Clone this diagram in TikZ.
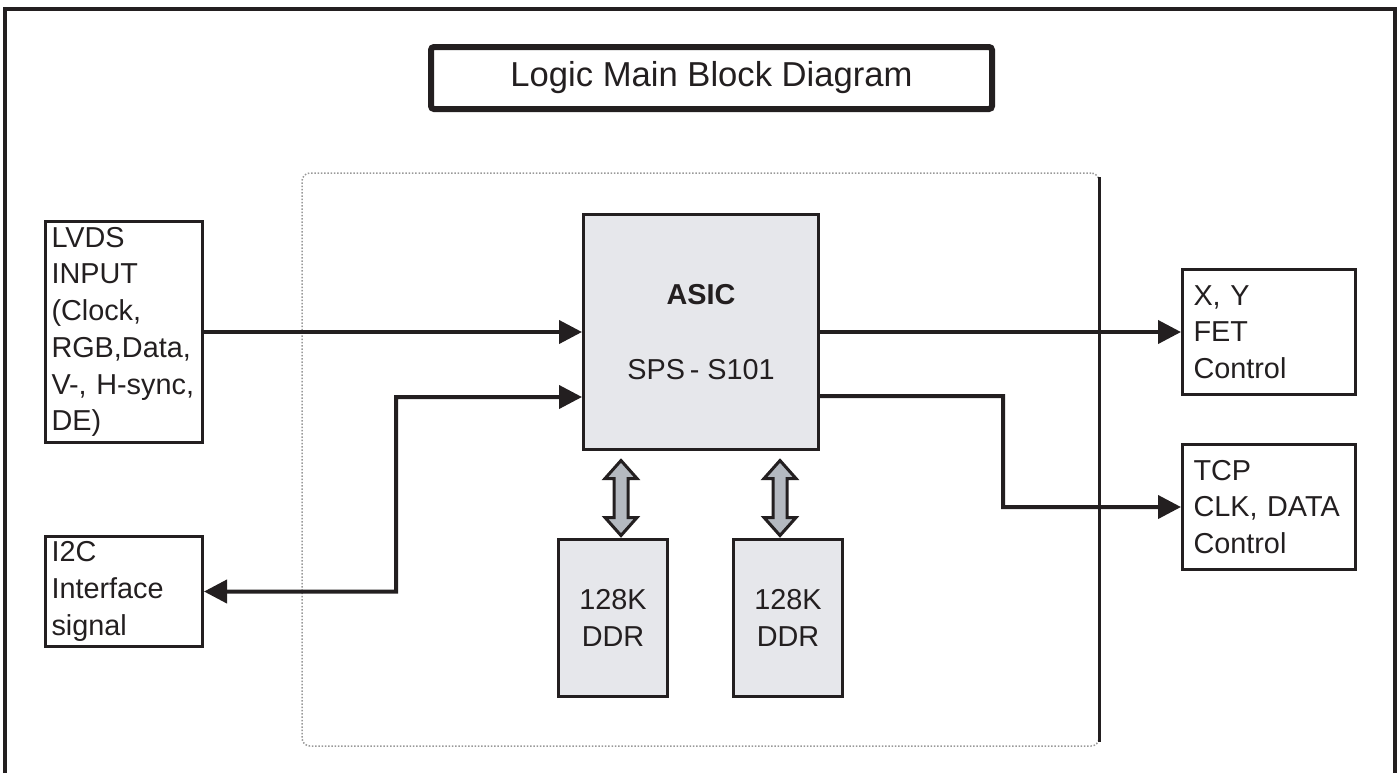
\documentclass[tikz,border=0pt]{standalone}
\usepackage{fontspec}
\setmainfont{Liberation Sans}
\usepackage{xcolor}
\usetikzlibrary{arrows.meta,calc}

\definecolor{chipfill}{HTML}{E6E7EB}
\definecolor{busfill}{HTML}{B4B9C0}
\definecolor{ink}{HTML}{231F20}

\begin{document}
\begin{tikzpicture}[
      font=\fontsize{16.4}{20.9}\selectfont, color=ink,
      box/.style={draw, line width=0.6mm, inner ysep=1mm},
      signal/.style={box, align=left, inner xsep=1.2mm, text width=29mm},
      output/.style={box, align=left, inner xsep=2.2mm, text width=30.2mm,
                     minimum height=25mm},
      chip/.style={box, fill=chipfill, align=center},
      bus/.style={draw, line width=0.6mm, fill=busfill},
      region/.style={draw=gray!80, densely dotted, line width=0.3mm,
                     rounded corners=1.6mm},
      wire/.style={line width=0.8mm},
      >={Triangle[length=4.6mm,width=4.6mm]}]

    \useasboundingbox (0mm,0mm) rectangle (280mm,-154.6mm);
    \draw[line width=0.8mm] (1mm,-154.6mm) -- (1mm,-1.8mm)
      -- (279mm,-1.8mm) -- (279mm,-154.6mm);

    \node[box, line width=1.2mm, rounded corners=0.6mm,
          minimum width=112.2mm, minimum height=12.4mm,
          font=\fontsize{19.7}{24}\selectfont] (title) at (142.3mm,-15.6mm)
      {Logic Main Block Diagram};

    % board area
    \node[region, minimum width=159.4mm, minimum height=114.6mm] (board)
      at (140.1mm,-91.9mm) {};
    \draw[line width=0.6mm] ([yshift=-1mm]board.north east)
      -- ([yshift=1mm]board.south east);

    \node[signal, minimum height=44.2mm] (lvds) at (24.8mm,-66.4mm)
      {LVDS\\INPUT\\(Clock,\\RGB,Data,\\V-, H-sync,\\DE)};
    \node[signal, minimum height=21.2mm] (i2c) at (24.8mm,-118.3mm)
      {I2C\\Interface\\signal};

    \node[chip, minimum width=47mm, minimum height=47mm] (asic)
      at (140.2mm,-66.4mm) {\textbf{ASIC}\\[7.7mm]SPS\,- S101};
    \node[chip, minimum width=21.8mm, minimum height=31.4mm] (ddra)
      at (122.6mm,-123.6mm) {128K\\DDR};
    \node[chip, minimum width=21.8mm, minimum height=31.4mm] (ddrb)
      at (157.6mm,-123.6mm) {128K\\DDR};

    % memory buses
    \coordinate (busa) at (124.2mm,-99.6mm);
    \coordinate (busb) at (156mm,-99.6mm);
    \foreach \bus in {busa,busb}
      \draw[bus, shift={(\bus)}] (0mm,7.5mm) -- (3.2mm,3.9mm)
        -- (1.4mm,3.9mm) -- (1.4mm,-3.9mm) -- (3.2mm,-3.9mm)
        -- (0mm,-7.5mm) -- (-3.2mm,-3.9mm) -- (-1.4mm,-3.9mm)
        -- (-1.4mm,3.9mm) -- (-3.2mm,3.9mm) -- cycle;

    \node[output] (fet) at (253.8mm,-66.4mm) {X, Y\\FET\\Control};
    \node[output] (tcp) at (253.8mm,-101.4mm) {TCP\\CLK, DATA\\Control};

    \coordinate (i2cbend) at (79.2mm,-79.4mm);
    \coordinate (tcpbend) at (200.6mm,-79.2mm);
    \draw[wire,->] (lvds.east) -- (asic.west);
    \draw[wire,<->] (i2c.east) -| (i2cbend) -- ([yshift=-13mm]asic.west);
    \draw[wire,->] (asic.east) -- (fet.west);
    \draw[wire,->] ([yshift=-12.8mm]asic.east) -- (tcpbend) |- (tcp.west);
  \end{tikzpicture}
\end{document}
